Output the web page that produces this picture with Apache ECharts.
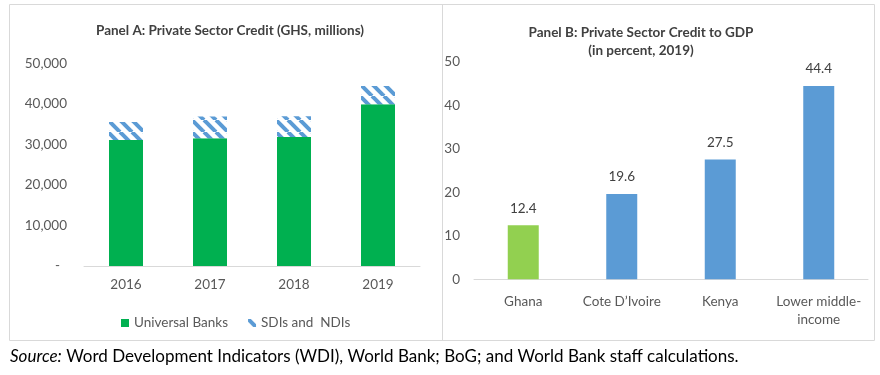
<!DOCTYPE html>
<html><head><meta charset="utf-8">
<script src="https://cdn.jsdelivr.net/npm/echarts@6/dist/echarts.min.js"></script>
<style>html,body{margin:0;padding:0;background:#fff}#c{width:880px;height:375px}</style>
</head><body><div id="c"></div>
<script>
// Panel A data
const yearsA = ['2016', '2017', '2018', '2019'];
const universalBanks = [31100, 31500, 31800, 39900];
const sdisNdis = [4400, 5350, 5150, 4500];
const yTicksA = [0, 10000, 20000, 30000, 40000, 50000];
// Panel B data
const countriesB = ['Ghana', 'Cote D\u2019Ivoire', 'Kenya', 'Lower middle-\nincome'];
const creditToGDP = [12.4, 19.6, 27.5, 44.4];
const yTicksB = [0, 10, 20, 30, 40, 50];

const FONT = 'Lato';
const AX = '#595959';

// hatch pattern
const P = 12;
const pc = document.createElement('canvas');
pc.width = P; pc.height = P;
const g = pc.getContext('2d');
g.fillStyle = '#fff'; g.fillRect(0, 0, P, P);
g.strokeStyle = '#5B9BD5'; g.lineWidth = 4;
for (const k of [-P, 0, P]) { g.beginPath(); g.moveTo(k, 0); g.lineTo(k + P, P); g.stroke(); }

const chart = echarts.init(document.getElementById('c'), null, {renderer: 'canvas'});
chart.setOption({
  animation: false,
  textStyle: {fontFamily: FONT},
  title: [
    {text: 'Panel A: Private Sector Credit (GHS, millions)', left: 225, top: 19, textAlign: 'center',
     textStyle: {fontSize: 13.5, fontWeight: 'bold', color: '#404040', fontFamily: FONT}},
    {text: 'Panel B: Private Sector Credit to GDP\n(in percent, 2019)', left: 636, top: 19, textAlign: 'center',
     textStyle: {fontSize: 13.5, fontWeight: 'bold', color: '#404040', fontFamily: FONT, lineHeight: 18}}
  ],
  legend: {
    top: 311, left: 116, itemWidth: 8, itemHeight: 8, itemGap: 20,
    textStyle: {fontSize: 13.5, color: AX, fontFamily: FONT},
    data: [{name: 'Universal Banks', icon: 'rect'}, {name: 'SDIs and  NDIs', icon: 'rect'}]
  },
  grid: [
    {left: 84, top: 63.3, width: 336, height: 202.7},
    {left: 474, top: 61.7, width: 394, height: 217.6}
  ],
  xAxis: [
    {type: 'category', gridIndex: 0, data: yearsA,
     axisLine: {lineStyle: {color: '#d9d9d9', width: 1}}, axisTick: {show: false},
     axisLabel: {color: AX, fontSize: 13.5, margin: 12, fontFamily: FONT}},
    {type: 'category', gridIndex: 1, data: countriesB,
     axisLine: {lineStyle: {color: '#d9d9d9', width: 1}}, axisTick: {show: false},
     axisLabel: {color: AX, fontSize: 13.5, margin: 13, lineHeight: 18, fontFamily: FONT, interval: 0}}
  ],
  yAxis: [
    {type: 'value', gridIndex: 0, min: yTicksA[0], max: yTicksA[yTicksA.length - 1], interval: 10000,
     splitLine: {show: false}, axisLine: {show: false}, axisTick: {show: false},
     axisLabel: {color: AX, fontSize: 13.5, margin: 17, fontFamily: FONT,
       formatter: v => v === 0 ? '{d|-}' : v.toLocaleString('en-US'),
       rich: {d: {padding: [0, 7, 0, 0], color: AX, fontSize: 13.5, fontFamily: FONT}}}},
    {type: 'value', gridIndex: 1, min: yTicksB[0], max: yTicksB[yTicksB.length - 1], interval: 10,
     splitLine: {show: false}, axisLine: {show: false}, axisTick: {show: false},
     axisLabel: {color: AX, fontSize: 13.5, margin: 14, fontFamily: FONT}}
  ],
  series: [
    {name: 'Universal Banks', type: 'bar', stack: 'a', xAxisIndex: 0, yAxisIndex: 0, barWidth: 34,
     data: universalBanks, itemStyle: {color: '#00B050'}},
    {name: 'SDIs and  NDIs', type: 'bar', stack: 'a', xAxisIndex: 0, yAxisIndex: 0, barWidth: 34,
     data: sdisNdis, itemStyle: {color: {image: pc, repeat: 'repeat'}}},
    {name: 'B', type: 'bar', xAxisIndex: 1, yAxisIndex: 1, barWidth: 31,
     data: creditToGDP.map((v, i) => ({value: v, itemStyle: {color: i === 0 ? '#92D050' : '#5B9BD5'}})),
     label: {show: true, position: 'top', distance: 10, color: '#404040', fontSize: 13.5, fontFamily: FONT,
       formatter: p => p.value.toFixed(1)}}
  ],
  graphic: [
    {type: 'rect', shape: {x: 9.5, y: 4.5, width: 865, height: 336}, style: {fill: null, stroke: '#d9d9d9', lineWidth: 1}, silent: true},
    {type: 'line', shape: {x1: 442.5, y1: 4.5, x2: 442.5, y2: 340.5}, style: {stroke: '#d9d9d9', lineWidth: 1}, silent: true},
    {type: 'text', left: 10, top: 348,
     style: {text: '{i|Source:} Word Development Indicators (WDI), World Bank; BoG; and World Bank staff calculations.',
       fontFamily: FONT, fontSize: 17, fill: '#000',
       rich: {i: {fontStyle: 'italic', fontFamily: FONT, fontSize: 17, fill: '#000'}}}}
  ]
});
</script></body></html>
